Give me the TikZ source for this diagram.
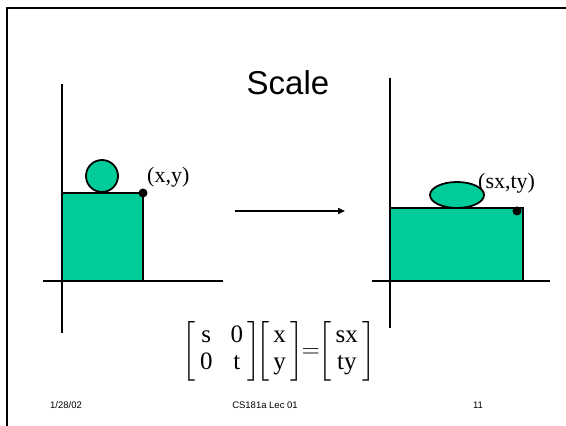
\documentclass[tikz,border=0pt]{standalone}
\usepackage{amsmath}
\usepackage{fontspec}
\setmainfont{Liberation Serif}
\setsansfont{Liberation Sans}
\usepackage{tikz}
\usetikzlibrary{arrows.meta,positioning,shapes.geometric}
\definecolor{relleno}{HTML}{00CC99}
\definecolor{tinta}{HTML}{000000}

\begin{document}
\begin{tikzpicture}[x=1pt,y=1pt,
  eje/.style={line width=2pt,draw=tinta},
  figura/.style={draw=tinta,fill=relleno,line width=1.8pt},
  punto/.style={circle,fill=tinta,minimum size=9pt,inner sep=0pt},
  rotulo/.style={font=\fontsize{22}{24}\selectfont,inner sep=0pt,anchor=west},
  pie/.style={font=\sffamily\fontsize{9.5}{10}\selectfont,inner sep=0pt},
  flecha/.style={line width=1.6pt,draw=tinta,-{Triangle[length=7pt,width=6pt]}}]
\useasboundingbox (0,0) rectangle (566,426);
\draw[eje] (6.5,0) -- (6.5,417.5) -- (566,417.5);
\node[font=\sffamily\fontsize{33}{36}\selectfont,anchor=base] (titulo) at (288,331) {Scale};
% figura original
\draw[eje] (62,93) -- (62,342);
\draw[eje] (43,145) -- (223,145);
\draw[figura] (62,145) rectangle (143,233);
\node[figura,circle,minimum size=32pt,inner sep=0pt] (bola) at (102,250) {};
\node[punto] (esquina) at (143,233) {};
\node[rotulo] (xy) at (147,249) {(x,y)};
% flecha
\coordinate (desde) at (235,215);
\coordinate (hasta) at (345,215);
\draw[flecha] (desde) -- (hasta);
% figura escalada
\draw[eje] (390,98) -- (390,348);
\draw[eje] (372,145) -- (550,145);
\draw[figura] (390,145) rectangle (523,218);
\node[figura,ellipse,minimum width=54pt,minimum height=26pt,inner sep=0pt] (elipse) at (457,231) {};
\node[punto] (esquina2) at (517,215) {};
\node[rotulo] (sxty) at (478,243) {(sx,ty)};
% ecuacion
\node[inner sep=0pt] (ecuacion) at (279,75) {\fontsize{25}{27}\selectfont
  $\left[\begin{array}{@{\,}c@{\;\;\,}c@{\,}}\text{s}&\text{0}\\ \text{0}&\text{t}\end{array}\right]
  \!\!\left[\begin{array}{@{\,}c@{\,}}\text{x}\\ \text{y}\end{array}\right]\!\!=\!\!
  \left[\begin{array}{@{\,}c@{\,}}\text{sx}\\ \text{ty}\end{array}\right]$};
% pie de pagina
\node[pie,anchor=west] (fecha) at (50,21) {1/28/02};
\node[pie] (curso) at (265,21) {CS181a Lec 01};
\node[pie] (pagina) at (478,21) {11};
\end{tikzpicture}
\end{document}
